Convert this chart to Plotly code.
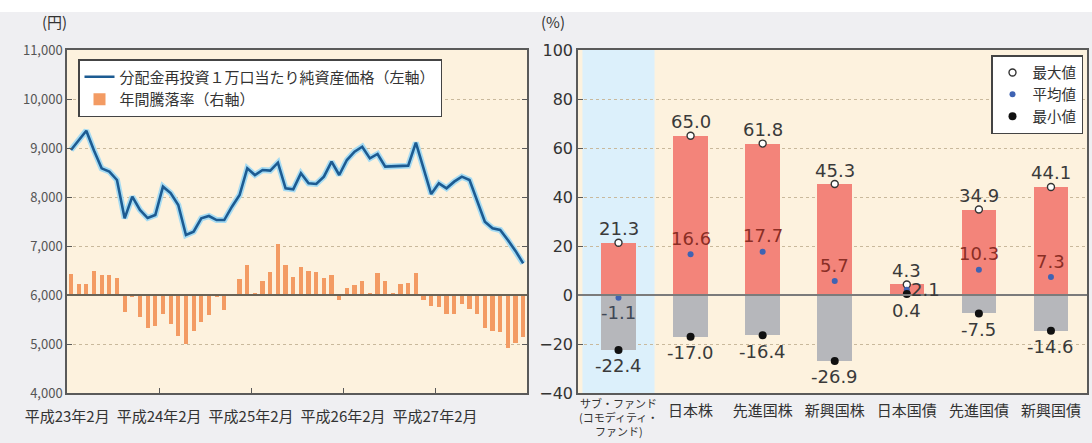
import plotly.graph_objects as go

# ---------------- data ----------------
month_idx = list(range(60))  # 平成23年2月 ... 平成28年1月
nav_yen = [8960, 9150, 9353, 8950, 8585, 8520, 8347, 7565, 8007, 7735,
           7570, 7633, 8211, 8080, 7837, 7224, 7292, 7565, 7612, 7530,
           7530, 7802, 8041, 8585, 8449, 8551, 8540, 8700, 8177, 8157,
           8483, 8279, 8265, 8415, 8721, 8449, 8755, 8925, 9027, 8789,
           8878, 8619, 8630, 8640, 8640, 9109, 8585, 8061, 8279, 8177,
           8313, 8415, 8347, 7939, 7497, 7361, 7327, 7122, 6900, 6646]
annual_return_pct = [8.4, 4.6, 4.3, 9.7, 8.0, 8.1, 7.0, -6.9, -0.8, -8.8,
                     -13.5, -12.6, -7.8, -11.9, -16.6, -20.0, -14.6, -10.9, -8.2, -0.5,
                     -6.2, 0.3, 6.6, 12.2, 1.0, 5.7, 9.3, 21.0, 12.2, 7.3,
                     11.4, 9.7, 9.3, 7.0, 8.1, -2.0, 3.0, 3.9, 5.7, 1.0,
                     8.8, 5.7, 1.0, 4.3, 5.0, 8.8, -2.0, -4.5, -4.9, -7.8,
                     -7.8, -3.8, -5.8, -7.8, -13.5, -14.6, -14.9, -21.8, -19.6, -17.3]
month_tick_idx = [0, 12, 24, 36, 48]
month_tick_labels = ["平成23年2月", "平成24年2月", "平成25年2月", "平成26年2月", "平成27年2月"]

categories = ["サブ・ファンド", "日本株", "先進国株", "新興国株", "日本国債", "先進国債", "新興国債"]
subfund_label_lines = ["サブ・ファンド", "(コモディティ・", "ファンド)"]
max_vals = [21.3, 65.0, 61.8, 45.3, 4.3, 34.9, 44.1]
avg_vals = [-1.1, 16.6, 17.7, 5.7, 2.1, 10.3, 7.3]
min_vals = [-22.4, -17.0, -16.4, -26.9, 0.4, -7.5, -14.6]

# ---------------- layout helpers ----------------
W, H = 1092, 443
TOP, BOT = 50, 393


def py(px):
    return (BOT - px) / (BOT - TOP)


JP = "Noto Sans CJK JP"
NUM = "DejaVu Sans"
AXC = "#5a5a5a"
GRID = "#c9b99c"

fig = go.Figure()

# left chart
fig.add_trace(go.Bar(x=month_idx, y=annual_return_pct, xaxis="x", yaxis="y",
                     marker=dict(color="#f39b63", line=dict(width=0)), width=0.55,
                     name="年間騰落率（右軸）", legend="legend", legendrank=2,
                     hoverinfo="x+y"))
fig.add_trace(go.Scatter(x=month_idx, y=nav_yen, xaxis="x", yaxis="y2", mode="lines",
                         line=dict(color="#a6dbf2", width=6), showlegend=False,
                         hoverinfo="skip"))
fig.add_trace(go.Scatter(x=month_idx, y=nav_yen, xaxis="x", yaxis="y2", mode="lines",
                         line=dict(color="#1c5b92", width=2.6),
                         name="分配金再投資１万口当たり純資産価格（左軸）",
                         legend="legend", legendrank=1))

# right chart
fig.add_trace(go.Bar(x=categories, y=max_vals, xaxis="x2", yaxis="y3",
                     marker=dict(color="#f3847a", line=dict(width=0)), width=0.48,
                     showlegend=False))
fig.add_trace(go.Bar(x=categories, y=[v if v < 0 else 0 for v in min_vals],
                     xaxis="x2", yaxis="y3",
                     marker=dict(color="#b6b7bb", line=dict(width=0)), width=0.48,
                     showlegend=False))
fig.add_trace(go.Scatter(x=categories, y=max_vals, xaxis="x2", yaxis="y3", mode="markers",
                         marker=dict(color="white", size=7, line=dict(color="#333", width=1.4)),
                         name="最大値", legend="legend2"))
fig.add_trace(go.Scatter(x=categories, y=avg_vals, xaxis="x2", yaxis="y3", mode="markers",
                         marker=dict(color="#3f63b3", size=6),
                         name="平均値", legend="legend2"))
fig.add_trace(go.Scatter(x=categories, y=min_vals, xaxis="x2", yaxis="y3", mode="markers",
                         marker=dict(color="#111", size=8),
                         name="最小値", legend="legend2"))

annotations = []
# value labels
for c, mx, av, mn in zip(categories, max_vals, avg_vals, min_vals):
    annotations.append(dict(x=c, y=mx, xref="x2", yref="y3", text=f"{mx:.1f}",
                            showarrow=False, yshift=14, font=dict(family=NUM, size=18, color="#3a3a3a")))
    if av < 0:
        xs, ys, col = 0, -15, "#3f4856"
    elif mx < 10:
        xs, ys, col = 19, 0, "#3a3a3a"
    else:
        xs, ys, col = 0, 16, "#8a2e25"
    annotations.append(dict(x=c, y=av, xref="x2", yref="y3", text=f"{av:.1f}",
                            showarrow=False, xshift=xs, yshift=ys,
                            font=dict(family=NUM, size=18, color=col)))
    annotations.append(dict(x=c, y=mn, xref="x2", yref="y3", text=f"{mn:.1f}",
                            showarrow=False, yshift=-16, font=dict(family=NUM, size=18, color="#3a3a3a")))

# sub-fund category label (three tight lines)
for k, line in enumerate(subfund_label_lines):
    annotations.append(dict(x=categories[0], xref="x2", y=py(403 + 14 * k), yref="paper",
                            yanchor="middle", text=line, showarrow=False, borderpad=0,
                            font=dict(family=JP, size=11, color="#333")))

annotations.append(dict(x=40 / W, y=py(21), xref="paper", yref="paper", text="(円)",
                        yanchor="middle", showarrow=False,
                        font=dict(family=JP, size=15, color="#333")))
annotations.append(dict(x=553 / W, y=py(22), xref="paper", yref="paper", text="(%)",
                        yanchor="middle", showarrow=False,
                        font=dict(family=JP, size=15, color="#333")))

shapes = [
    dict(type="rect", xref="x2", yref="y3 domain", x0=-0.5, x1=0.5, y0=0, y1=1,
         fillcolor="#dcf0fb", line=dict(width=0), layer="below"),
    dict(type="line", xref="x2 domain", yref="y3", x0=0, x1=1, y0=0, y1=0,
         line=dict(color="#7b7b7b", width=2), layer="above"),
    dict(type="line", xref="x domain", yref="y", x0=0, x1=1, y0=0, y1=0,
         line=dict(color="#6a6356", width=2), layer="above"),
    dict(type="rect", xref="paper", yref="paper", x0=0, x1=1, y0=py(12), y1=py(0),
         fillcolor="white", line=dict(width=0), layer="below"),
]

axis_common = dict(showline=True, linecolor=AXC, linewidth=1.5, ticks="inside",
                   ticklen=5, tickcolor=AXC, zeroline=False, automargin=False)

fig.update_layout(
    width=W, height=H, autosize=False,
    margin=dict(l=0, r=0, t=TOP, b=H - BOT, pad=0, autoexpand=False),
    paper_bgcolor="#efeff2", plot_bgcolor="#fdf2de",
    barmode="overlay", bargap=0,
    font=dict(family=JP, color="#333"),
    xaxis=dict(domain=[67 / W, 527 / W], anchor="y", range=[-0.52, 59.5],
               tickvals=[i - 0.5 for i in month_tick_idx], ticktext=month_tick_labels,
               tickfont=dict(family=JP, size=15, color="#333"), mirror=True,
               showgrid=False, ticklabelstandoff=9, **axis_common),
    yaxis=dict(domain=[0, 1], anchor="x", side="right", range=[-40, 100], dtick=20,
               showticklabels=False, showgrid=True, gridcolor=GRID, griddash="dot",
               gridwidth=1, **axis_common),
    yaxis2=dict(overlaying="y", anchor="x", side="left", range=[4000, 11000], dtick=1000,
                tickformat=",d", tickfont=dict(family=JP, size=13, color="#555"),
                showgrid=False, **axis_common),
    xaxis2=dict(domain=[578 / W, 1087 / W], anchor="y3", type="category",
                tickvals=categories, ticktext=[""] + categories[1:],
                tickfont=dict(family=JP, size=15, color="#333"), mirror=True,
                showgrid=False, showline=True, linecolor=AXC, linewidth=1.5,
                ticks="", zeroline=False, automargin=False, ticklabelstandoff=3),
    yaxis3=dict(domain=[0, 1], anchor="x2", range=[-40, 100], dtick=20,
                tickfont=dict(family=NUM, size=16, color="#333"), mirror=True,
                showgrid=True, gridcolor=GRID, griddash="dot", gridwidth=1,
                **axis_common),
    legend=dict(x=78 / W, y=py(59), xanchor="left", yanchor="top", bgcolor="white",
                bordercolor="#444", borderwidth=1.5, font=dict(family=JP, size=15, color="#333"),
                itemwidth=30, tracegroupgap=0, traceorder="normal"),
    legend2=dict(x=1083 / W, y=py(55), xanchor="right", yanchor="top", bgcolor="white",
                 bordercolor="#444", borderwidth=1.5, font=dict(family=JP, size=14.5, color="#333"),
                 itemwidth=30, tracegroupgap=0, traceorder="normal"),
    annotations=annotations,
    shapes=shapes,
    showlegend=True,
)

fig.write_html("out.html", config={"displayModeBar": False},
               post_script="document.body.style.margin='0';document.body.style.background='#efeff2';")
